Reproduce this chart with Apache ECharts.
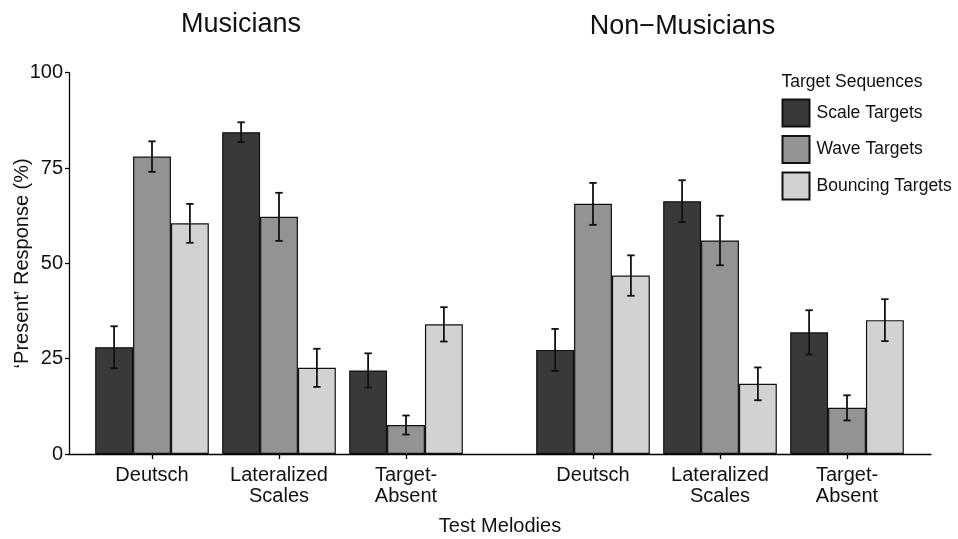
<!DOCTYPE html>
<html>
<head>
<meta charset="utf-8">
<script src="https://cdn.jsdelivr.net/npm/echarts@6/dist/echarts.min.js"></script>
<style>html,body{margin:0;padding:0;background:#fff}#c{width:958px;height:539px}</style>
</head>
<body>
<div id="c"></div>
<script>
var categories = ['Deutsch', 'Lateralized\nScales', 'Target-\nAbsent'];
var seriesNames = ['Scale Targets', 'Wave Targets', 'Bouncing Targets'];
var panelTitles = ['Musicians', 'Non\u2212Musicians'];
var yTicks = [0, 25, 50, 75, 100];

var musScale = [28.0, 84.4, 21.9];
var musScaleErr = [5.5, 2.6, 4.5];
var musWave = [78.0, 62.2, 7.6];
var musWaveErr = [4.0, 6.3, 2.5];
var musBounce = [60.5, 22.6, 34.0];
var musBounceErr = [5.1, 5.0, 4.5];

var nonScale = [27.3, 66.3, 31.9];
var nonScaleErr = [5.5, 5.5, 5.8];
var nonWave = [65.6, 56.0, 12.1];
var nonWaveErr = [5.5, 6.5, 3.3];
var nonBounce = [46.8, 18.4, 35.1];
var nonBounceErr = [5.3, 4.3, 5.5];

var colors = ['#393939', '#939393', '#d2d2d2'];
var FONT = 'Liberation Sans, Arial, Helvetica, sans-serif';
var GAP = 0.105;

var panels = [
  {vals: [musScale, musWave, musBounce], errs: [musScaleErr, musWaveErr, musBounceErr]},
  {vals: [nonScale, nonWave, nonBounce], errs: [nonScaleErr, nonWaveErr, nonBounceErr]}
];

var TOP = 72.7, BOTTOM = 539 - 454;
var grids = [
  {left: 69, right: 958 - 931, top: TOP, bottom: BOTTOM, outerBoundsMode: 'none', containLabel: false},
  {left: 88.5, width: 381, top: TOP, bottom: BOTTOM, outerBoundsMode: 'none', containLabel: false},
  {left: 529.5, width: 381, top: TOP, bottom: BOTTOM, outerBoundsMode: 'none', containLabel: false}
];

var xAxes = [
  {gridIndex: 0, type: 'value', min: 0, max: 1,
   axisLine: {show: true, onZero: false, lineStyle: {color: '#000', width: 1.3}},
   axisTick: {show: false}, axisLabel: {show: false}, splitLine: {show: false},
   name: 'Test Melodies', nameLocation: 'middle', nameGap: 72, nameMoveOverlap: false,
   nameTextStyle: {fontFamily: FONT, fontSize: 20, color: '#111', verticalAlign: 'middle'}}
];
var yAxes = [
  {gridIndex: 0, type: 'value', min: 0, max: 100, interval: 25,
   axisLine: {show: true, lineStyle: {color: '#000', width: 1.3}},
   axisTick: {show: true, length: 4, lineStyle: {color: '#000', width: 1.3}},
   axisLabel: {fontFamily: FONT, fontSize: 20, color: '#111', margin: 6,
     formatter: function (v) { return yTicks.indexOf(v) >= 0 ? String(v) : ''; }},
   splitLine: {show: false},
   name: '\u2018Present\u2019 Response (%)', nameLocation: 'middle', nameGap: 47, nameRotate: 90,
   nameMoveOverlap: false,
   nameTextStyle: {fontFamily: FONT, fontSize: 20, color: '#111', verticalAlign: 'middle'}}
];
for (var g = 1; g <= 2; g++) {
  xAxes.push({gridIndex: g, type: 'category', data: categories,
    axisLine: {show: false},
    axisTick: {show: true, alignWithLabel: true, length: 5, lineStyle: {color: '#000', width: 1.3}},
    axisLabel: {fontFamily: FONT, fontSize: 20, color: '#111', margin: 11, lineHeight: 21, interval: 0},
    splitLine: {show: false}});
  yAxes.push({gridIndex: g, type: 'value', min: 0, max: 100, show: false, splitLine: {show: false}});
}

var series = [];
panels.forEach(function (p, pi) {
  var ax = pi + 1;
  for (var s = 0; s < 3; s++) {
    series.push({
      name: seriesNames[s], type: 'bar', xAxisIndex: ax, yAxisIndex: ax,
      data: p.vals[s], barGap: '0%', barCategoryGap: (GAP * 100) + '%',
      itemStyle: {color: colors[s], borderColor: '#111', borderWidth: 1.2},
      emphasis: {disabled: true}, z: 2
    });
  }
  for (var s2 = 0; s2 < 3; s2++) {
    (function (k) {
      var data = p.vals[k].map(function (v, i) { return [i, v - p.errs[k][i], v + p.errs[k][i]]; });
      series.push({
        type: 'custom', xAxisIndex: ax, yAxisIndex: ax, z: 5, silent: true,
        data: data,
        renderItem: function (params, api) {
          var band = api.size([1, 0])[0];
          var bw = band * (1 - GAP) / 3;
          var cx = api.coord([api.value(0), 0])[0] + (k - 1) * bw;
          var yLo = api.coord([api.value(0), api.value(1)])[1];
          var yHi = api.coord([api.value(0), api.value(2)])[1];
          var cap = 3.7;
          var st = {stroke: '#111', lineWidth: 1.8};
          return {type: 'group', children: [
            {type: 'line', shape: {x1: cx, y1: yLo, x2: cx, y2: yHi}, style: st},
            {type: 'line', shape: {x1: cx - cap, y1: yLo, x2: cx + cap, y2: yLo}, style: st},
            {type: 'line', shape: {x1: cx - cap, y1: yHi, x2: cx + cap, y2: yHi}, style: st}
          ]};
        }
      });
    })(s2);
  }
});

var chart = echarts.init(document.getElementById('c'), null, {renderer: 'canvas'});
chart.setOption({
  animation: false,
  backgroundColor: '#fff',
  grid: grids,
  xAxis: xAxes,
  yAxis: yAxes,
  legend: {
    data: seriesNames, orient: 'vertical', left: 781.5, top: 98.5, padding: 0,
    itemWidth: 27, itemHeight: 27, itemGap: 7.5, icon: 'rect',
    selectedMode: false,
    textStyle: {fontFamily: FONT, fontSize: 17.5, color: '#111', padding: [0, 0, 0, 2]}
  },
  graphic: [
    {type: 'text', style: {x: 241, y: 25, text: panelTitles[0], textAlign: 'center', textVerticalAlign: 'middle', font: '27px ' + FONT, fill: '#111'}},
    {type: 'text', style: {x: 682.5, y: 27, text: panelTitles[1], textAlign: 'center', textVerticalAlign: 'middle', font: '27px ' + FONT, fill: '#111'}},
    {type: 'text', style: {x: 781.5, y: 82, text: 'Target Sequences', textAlign: 'left', textVerticalAlign: 'middle', font: '17.5px ' + FONT, fill: '#111'}}
  ],
  series: series
});
</script>
</body>
</html>
